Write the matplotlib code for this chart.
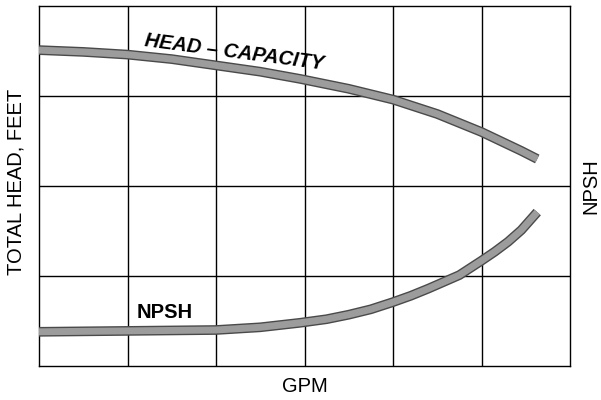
import matplotlib
matplotlib.use("Agg")
import numpy as np
import matplotlib.pyplot as plt

# curve readings (x in grid columns, y in grid rows)
headX = [0, 0.5, 1, 1.5, 2, 2.5, 2.95, 3.5, 4, 4.5, 5, 5.15, 5.3, 5.45, 5.63]
headY = [3.51, 3.49, 3.46, 3.41, 3.34, 3.27, 3.19, 3.08, 2.96, 2.80, 2.60, 2.53, 2.46, 2.39, 2.30]

npshX = [0, 1, 2, 2.5, 2.95, 3.25, 3.5, 3.75, 4, 4.2, 4.4, 4.75, 5, 5.15, 5.3, 5.45, 5.63]
npshY = [0.38, 0.39, 0.40, 0.43, 0.48, 0.52, 0.57, 0.63, 0.71, 0.78, 0.86, 1.01, 1.17, 1.27, 1.38, 1.51, 1.71]

xGrid = [1, 2, 3, 4, 5]
yGrid = [1, 2, 3]

plt.rcParams['font.family'] = ['Liberation Sans', 'DejaVu Sans']

fig = plt.figure(figsize=(6.01, 4.0), dpi=100)
ax = fig.add_axes([39 / 601, 34 / 400, 531 / 601, 360 / 400])
ax.set_xlim(0, 6)
ax.set_ylim(0, 4)

for gx in xGrid:
    ax.axvline(gx, color="black", lw=1.0)
for gy in yGrid:
    ax.axhline(gy, color="black", lw=1.0)

# thick stippled-looking bands
for xs, ys in [(headX, headY), (npshX, npshY)]:
    ax.plot(xs, ys, color="#4a4a4a", lw=7.0, solid_capstyle="butt",
            solid_joinstyle="round", zorder=3)
    ax.plot(xs, ys, color="#9c9c9c", lw=5.0, solid_capstyle="butt",
            solid_joinstyle="round", zorder=4)

ax.text(2.21, 3.48, "HEAD – CAPACITY", fontsize=14.5, fontweight="bold",
        fontstyle="italic", rotation=-7.5, ha="center", va="center", zorder=5)
ax.text(1.42, 0.59, "NPSH", fontsize=14.5, fontweight="bold",
        ha="center", va="center", zorder=5)

ax.set_xticks([])
ax.set_yticks([])
for s in ax.spines.values():
    s.set_linewidth(1.0)
    s.set_color("black")

fig.text(16.5 / 601, 1 - 182 / 400, "TOTAL HEAD, FEET", rotation=90,
         ha="center", va="center", fontsize=14.5)
fig.text(591 / 601, 1 - 186 / 400, "NPSH", rotation=90,
         ha="center", va="center", fontsize=14.5)
fig.text(305 / 601, 1 - 386 / 400, "GPM", ha="center", va="center", fontsize=14.5)

fig.savefig("out.png", dpi=100)
